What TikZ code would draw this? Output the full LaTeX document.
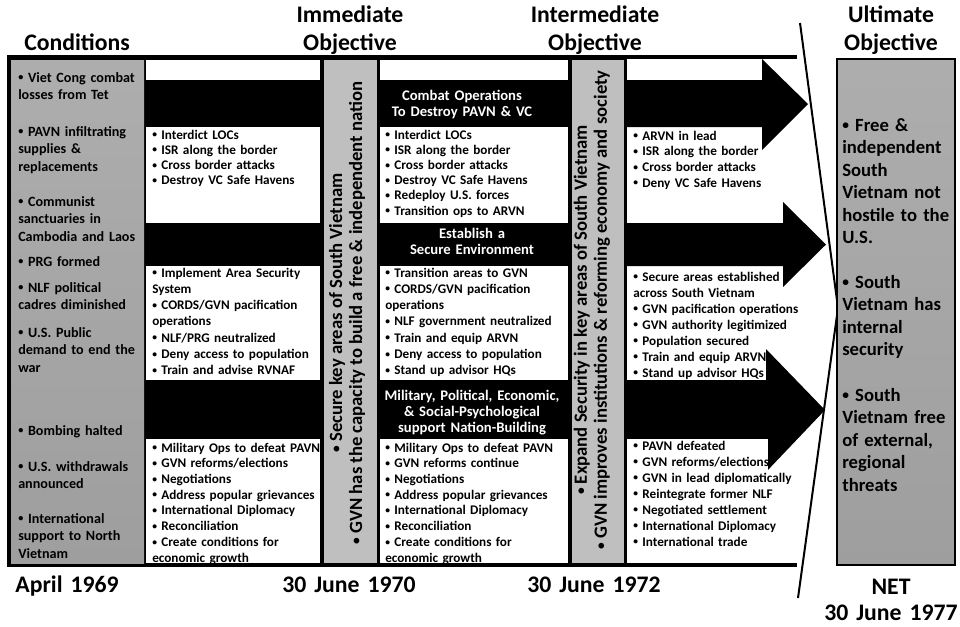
\documentclass[tikz,border=0pt]{standalone}
\usepackage{fontspec}
\usepackage{graphicx}
\setmainfont{Carlito}
\newcommand{\bul}{\raisebox{0.2ex}{\scalebox{0.72}{•}}}

\tikzstyle{headtxt}=[font=\fontsize{17.8}{21}\selectfont\bfseries,inner sep=0pt,anchor=base,text width=150pt,align=center]
\tikzstyle{condtxt}=[font=\fontsize{10.6}{13.4}\selectfont\bfseries,inner sep=0pt,anchor=base west,text width=100pt,align=left]
\tikzstyle{itemtxt}=[font=\fontsize{9.9}{11.8}\selectfont\bfseries,inner sep=0pt,anchor=base west,text width=150pt,align=left]
\tikzstyle{bandtxt}=[font=\fontsize{11}{12.2}\selectfont\bfseries,text=white,inner sep=0pt,anchor=base,text width=141pt,align=center]
\tikzstyle{goaltxt}=[font=\fontsize{14}{16.9}\selectfont\bfseries,inner sep=0pt,anchor=base west,text width=85pt,align=left]
\tikzstyle{aimtxt}=[font=\fontsize{14}{15}\selectfont\bfseries,inner sep=0pt,rotate=90,align=center]
\tikzstyle{wbox}=[fill=white]
\tikzstyle{bar}=[fill=black!25]
\tikzstyle{fade}=[top color=black!32,middle color=black!3,bottom color=black!38]

\begin{document}
\begin{tikzpicture}[x=0.75pt,y=-0.75pt]
  \useasboundingbox (0,0) rectangle (960,626);
  \fill (7,55) rectangle (797,567);
  \fill[white] (627,59) rectangle (797,563);
  \shade[fade] (11,60) rectangle (144,563);
  \fill[bar] (324,60) rectangle (377,563);
  \fill[bar] (572,60) rectangle (624,563);
  \foreach \top/\bot in {60/80,127/223,266/380,439/563} {
    \fill[wbox] (146,\top) rectangle (320,\bot);
    \fill[wbox] (380,\top) rectangle (568,\bot);
  }
  \fill (627,80) -- (762,80) -- (762,59) -- (808,104) -- (762,150) -- (762,127) -- (627,127) -- cycle;
  \fill (627,223) -- (783,223) -- (783,202) -- (826,244.5) -- (783,287) -- (783,266) -- (627,266) -- cycle;
  \fill (627,380) -- (766,380) -- (766,349) -- (825,410) -- (766,472) -- (766,439) -- (627,439) -- cycle;
  \fill[wbox] (627,439) rectangle (768,563);
  \draw[line width=1.5pt] (800,23) -- (838,308) -- (798,598);
  \shade[fade,draw=black,line width=2pt] (837,59) rectangle (955,565);

  \node[headtxt] (cond) at (77,50) {Conditions};
  \node[headtxt] (imm) at (350,22) {Immediate\\Objective};
  \node[headtxt] (inter) at (595,22) {Intermediate\\Objective};
  \node[headtxt] (ult) at (891,22) {Ultimate\\Objective};
  \node[headtxt] (d1) at (67,592) {April 1969};
  \node[headtxt] (d2) at (349,592) {30 June 1970};
  \node[headtxt] (d3) at (594,592) {30 June 1972};
  \node[headtxt] (d4) at (891,594) {NET\\[-1.5pt]30 June 1977};

  \node[condtxt] (c1) at (18,82) {\bul{} Viet Cong combat\\losses from Tet};
  \node[condtxt] (c2) at (18,136) {\bul{} PAVN infiltrating\\supplies \&\\replacements};
  \node[condtxt] (c3) at (18,206) {\bul{} Communist\\sanctuaries in\\Cambodia and Laos};
  \node[condtxt] (c4) at (18,266) {\bul{} PRG formed};
  \node[condtxt] (c5) at (18,292) {\bul{} NLF political\\cadres diminished};
  \node[condtxt] (c6) at (18,337) {\bul{} U.S. Public\\demand to end the\\war};
  \node[condtxt] (c7) at (18,435) {\bul{} Bombing halted};
  \node[condtxt] (c8) at (18,471) {\bul{} U.S. withdrawals\\announced};
  \node[condtxt] (c9) at (18,523) {\bul{} International\\support to North\\Vietnam};

  \node[itemtxt,font=\fontsize{9.9}{11.4}\selectfont\bfseries] (i1) at (152,139) {\bul{} Interdict LOCs\\\bul{} ISR along the border\\\bul{} Cross border attacks\\\bul{} Destroy VC Safe Havens};
  \node[itemtxt,font=\fontsize{9.9}{12.2}\selectfont\bfseries] (i2) at (152,277) {\bul{} Implement Area Security\\System\\\bul{} CORDS/GVN pacification\\operations\\\bul{} NLF/PRG neutralized\\\bul{} Deny access to population\\\bul{} Train and advise RVNAF};
  \node[itemtxt] (i3) at (152,452) {\bul{} Military Ops to defeat PAVN\\\bul{} GVN reforms/elections\\\bul{} Negotiations\\\bul{} Address popular grievances\\\bul{} International Diplomacy\\\bul{} Reconciliation\\\bul{} Create conditions for\\economic growth};

  \node[bandtxt] (b1) at (462,100) {Combat Operations\\To Destroy PAVN \& VC};
  \node[bandtxt] (b2) at (472,238.5) {Establish a\\Secure Environment};
  \node[bandtxt] (b3) at (472,400) {Military, Political, Economic,\\\& Social-Psychological\\support Nation-Building};

  \node[itemtxt,font=\fontsize{9.9}{11.4}\selectfont\bfseries] (j1) at (385,139) {\bul{} Interdict LOCs\\\bul{} ISR along the border\\\bul{} Cross border attacks\\\bul{} Destroy VC Safe Havens\\\bul{} Redeploy U.S. forces\\\bul{} Transition ops to ARVN};
  \node[itemtxt,font=\fontsize{9.9}{12.2}\selectfont\bfseries] (j2) at (385,277) {\bul{} Transition areas to GVN\\\bul{} CORDS/GVN pacification\\operations\\\bul{} NLF government neutralized\\\bul{} Train and equip ARVN\\\bul{} Deny access to population\\\bul{} Stand up advisor HQs};
  \node[itemtxt] (j3) at (385,452) {\bul{} Military Ops to defeat PAVN\\\bul{} GVN reforms continue\\\bul{} Negotiations\\\bul{} Address popular grievances\\\bul{} International Diplomacy\\\bul{} Reconciliation\\\bul{} Create conditions for\\economic growth};

  \node[itemtxt] (k1) at (633,140) {\bul{} ARVN in lead\\\bul{} ISR along the border\\\bul{} Cross border attacks\\\bul{} Deny VC Safe Havens};
  \node[itemtxt,font=\fontsize{9.9}{12}\selectfont\bfseries] (k2) at (633,281) {\bul{} Secure areas established\\across South Vietnam\\\bul{} GVN pacification operations\\\bul{} GVN authority legitimized\\\bul{} Population secured\\\bul{} Train and equip ARVN\\\bul{} Stand up advisor HQs};
  \node[itemtxt,font=\fontsize{9.9}{12}\selectfont\bfseries] (k3) at (633,450) {\bul{} PAVN defeated\\\bul{} GVN reforms/elections\\\bul{} GVN in lead diplomatically\\\bul{} Reintegrate former NLF\\\bul{} Negotiated settlement\\\bul{} International Diplomacy\\\bul{} International trade};

  \node[aimtxt] (g1) at (347,313) {\bul{} Secure key areas of South Vietnam\\\bul{} GVN has the capacity to build a free \& independent nation};
  \node[aimtxt] (g2) at (592,310) {\bul{} Expand Security in key areas of South Vietnam\\\bul{} GVN improves institutions \& reforming economy and society};

  \node[goaltxt] (u1) at (842,131) {\bul{} Free \&\\independent\\South\\Vietnam not\\hostile to the\\U.S.};
  \node[goaltxt] (u2) at (842,288) {\bul{} South\\Vietnam has\\internal\\security};
  \node[goaltxt] (u3) at (842,401) {\bul{} South\\Vietnam free\\of external,\\regional\\threats};
\end{tikzpicture}
\end{document}
